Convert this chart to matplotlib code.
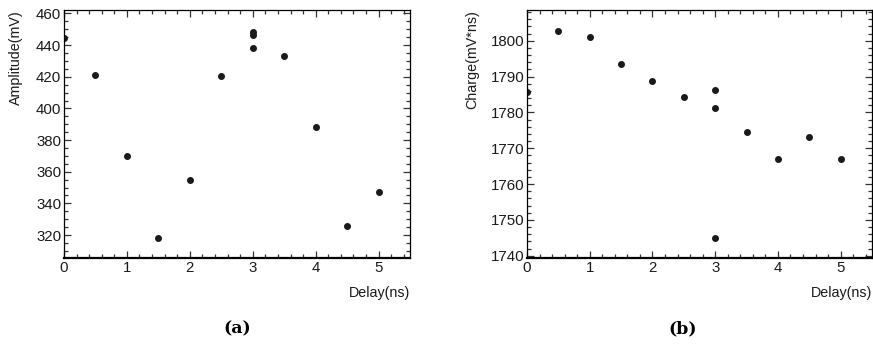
import matplotlib.pyplot as plt
from matplotlib.ticker import MultipleLocator

# data
delay = [0, 0.5, 1, 1.5, 2, 2.5, 3, 3, 3, 3.5, 4, 4.5, 5]
amplitude = [444.3, 421.3, 369.7, 318.1, 354.8, 420.4, 448.6, 446.2, 438.3, 433.0, 388.2, 325.8, 347.5]

delay_q = [0, 0.5, 1, 1.5, 2, 2.5, 3, 3, 3, 3.5, 4, 4.5, 5]
charge = [1785.8, 1802.8, 1801.2, 1793.6, 1788.9, 1784.4, 1786.4, 1781.2, 1745.0, 1774.5, 1766.9, 1773.1, 1766.9]

plt.rcParams['font.family'] = ['Liberation Sans', 'DejaVu Sans']

fig = plt.figure(figsize=(8.73, 3.45), dpi=100)
ax1 = fig.add_axes([0.0733, 0.2522, 0.3964, 0.7188])
ax2 = fig.add_axes([0.6037, 0.2522, 0.3951, 0.7188])

def style(ax, ylabel, ymaj, ymin, ypad):
	ax.set_xlim(0, 5.5)
	ax.xaxis.set_major_locator(MultipleLocator(1))
	ax.xaxis.set_minor_locator(MultipleLocator(0.2))
	ax.yaxis.set_major_locator(MultipleLocator(ymaj))
	ax.yaxis.set_minor_locator(MultipleLocator(ymin))
	ax.tick_params(which='both', direction='in', top=True, right=True, labelsize=10.8,
		width=0.9, pad=2, color='#333333', labelcolor='#1a1a1a')
	ax.tick_params(which='major', length=5.2)
	ax.tick_params(which='minor', length=2.6)
	for s in ax.spines.values():
		s.set_linewidth(0.9)
	ax.spines['bottom'].set_linewidth(1.6)
	ax.set_xlabel('Delay(ns)', fontsize=10.3, loc='right', labelpad=8, color='#1a1a1a')
	ax.set_ylabel(ylabel, fontsize=10.3, loc='top', labelpad=ypad, color='#1a1a1a')

ax1.plot(delay, amplitude, 'o', color='#1a1a1a', ms=4)
ax1.set_ylim(305.5, 462.2)
style(ax1, 'Amplitude(mV)', 20, 5, 9)

ax2.plot(delay_q, charge, 'o', color='#1a1a1a', ms=4)
ax2.set_ylim(1739.35, 1808.6)
style(ax2, 'Charge(mV*ns)', 10, 2, 8)

fig.text(0.2715, 0.035, '(a)', fontsize=12.5, fontweight='bold', family='DejaVu Serif', ha='center')
fig.text(0.7823, 0.035, '(b)', fontsize=12.5, fontweight='bold', family='DejaVu Serif', ha='center')

fig.savefig('out.png', dpi=100)
